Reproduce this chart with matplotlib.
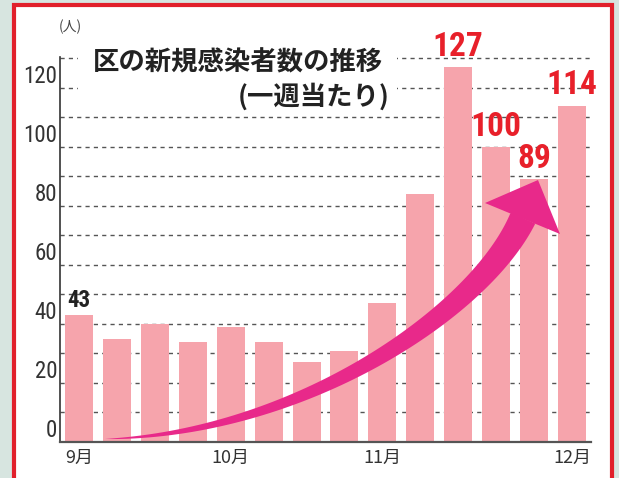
import os
import numpy as np
import matplotlib
matplotlib.use("Agg")
import matplotlib.pyplot as plt
from matplotlib import font_manager as fm
from matplotlib.patches import Rectangle, Polygon

# weekly new cases (people), Sep -> Dec
weeks = list(range(14))
cases = [43, 35, 40, 34, 39, 34, 27, 31, 47, 84, 127, 100, 89, 114]
month_pos = [0, 4, 8, 13]
month_labels = ["9月", "10月", "11月", "12月"]
y_ticks = [0, 20, 40, 60, 80, 100, 120]
grid_levels = list(range(10, 140, 10))
labeled = {0: "43", 10: "127", 11: "100", 12: "89", 13: "114"}

jp = ["Noto Sans CJK JP", "DejaVu Sans"]


def narrow_font(names, size):
    files = {os.path.basename(f).lower(): f for f in fm.findSystemFonts()}
    for n in names:
        if n.lower() in files:
            return fm.FontProperties(fname=files[n.lower()], size=size)
    return fm.FontProperties(family="DejaVu Sans", stretch="condensed", size=size)


reg_names = ["LiberationSansNarrow-Regular.ttf", "RobotoCondensed-Regular.ttf",
             "DejaVuSansCondensed.ttf"]
bold_names = ["LiberationSansNarrow-Bold.ttf", "RobotoCondensed-Bold.ttf",
              "DejaVuSansCondensed-Bold.ttf"]
tick_fp = narrow_font(reg_names, 16.5)
small_bold = narrow_font(bold_names, 16.5)
big_bold = narrow_font(bold_names, 24)

W, H = 619, 478
fig = plt.figure(figsize=(W / 100, H / 100), dpi=100)
fig.patch.set_facecolor("#d7e5e0")

# red frame
fig.add_artist(Rectangle((14 / W, -0.05), (612 - 14) / W, (H - 5) / H + 0.05,
                         transform=fig.transFigure, facecolor="white",
                         edgecolor="#e1202b", linewidth=3, zorder=-1))

ax = fig.add_axes([60 / W, 36 / H, 531 / W, 385 / H])
ax.set_facecolor("none")
ax.set_xlim(-0.5, 13.5)
ax.set_ylim(0, 130.5)

ax.hlines(grid_levels, -0.5, 13.5, colors="#555555", linewidth=1,
          linestyles=(0, (3, 3)), zorder=1)
ax.bar(weeks, cases, width=0.74, color="#f6a4ac", zorder=2)

for sp in ["top", "right"]:
    ax.spines[sp].set_visible(False)
ax.spines["left"].set_color("#333333")
ax.spines["left"].set_linewidth(1.2)
ax.spines["bottom"].set_color("#555555")
ax.spines["bottom"].set_linewidth(1.6)

ax.set_yticks(y_ticks)
ax.set_yticklabels([str(v) for v in y_ticks], color="#333333")
for lab in ax.get_yticklabels():
    lab.set_fontproperties(tick_fp)
    lab.set_va("bottom")
ax.set_xticks(month_pos)
ax.set_xticklabels(month_labels, family=jp, fontsize=13, color="#333333")
ax.tick_params(axis="both", length=0)
ax.tick_params(axis="y", pad=2)
ax.tick_params(axis="x", pad=5)

# value labels
for i, txt in labeled.items():
    if i == 0:
        ax.text(i, cases[i] + 1, txt, ha="center", va="bottom",
                fontproperties=small_bold, color="#222222", zorder=5)
    else:
        ax.text(i, cases[i] + 1.5, txt, ha="center", va="bottom",
                fontproperties=big_bold, color="#e8202a", zorder=5)

# curved tapered arrow, drawn in pixel space then converted to data
def to_data(pts):
    disp = np.column_stack([pts[:, 0], H - pts[:, 1]])
    return ax.transData.inverted().transform(disp)

P = np.array([[105, 439], [300, 434], [480, 312], [523, 218]], dtype=float)
t = np.linspace(0, 1, 80)[:, None]
curve = ((1 - t) ** 3 * P[0] + 3 * (1 - t) ** 2 * t * P[1]
         + 3 * (1 - t) * t ** 2 * P[2] + t ** 3 * P[3])
deriv = (3 * (1 - t) ** 2 * (P[1] - P[0]) + 6 * (1 - t) * t * (P[2] - P[1])
         + 3 * t ** 2 * (P[3] - P[2]))
normal = np.column_stack([-deriv[:, 1], deriv[:, 0]])
normal /= np.linalg.norm(normal, axis=1)[:, None]
half = (27 * t[:, 0] ** 0.85 / 2)[:, None]
shaft = np.vstack([curve + normal * half, (curve - normal * half)[::-1]])
head = np.array([[485, 203], [538, 180], [560, 234]], dtype=float)

for poly in (shaft, head):
    ax.add_patch(Polygon(to_data(poly), closed=True, facecolor="#e8298a",
                         edgecolor="none", zorder=3, clip_on=False))

# title with white backing over the grid
fig.add_artist(Rectangle((78 / W, (H - 106) / H), (397 - 78) / W, 66 / H,
                         transform=fig.transFigure, facecolor="white",
                         edgecolor="none", zorder=1))
fig.text(383 / W, 1 - 63 / H, "区の新規感染者数の推移", ha="right", va="center",
         family=jp, fontsize=19, fontweight="bold", color="#222222", zorder=3)
fig.text(390 / W, 1 - 97 / H, "(一週当たり)", ha="right", va="center",
         family=jp, fontsize=19, fontweight="bold", color="#222222", zorder=3)
fig.text(70 / W, 1 - 27 / H, "(人)", ha="center", va="center",
         family=jp, fontsize=10, color="#444444", zorder=3)

fig.savefig("out.png", dpi=100, facecolor=fig.get_facecolor())
